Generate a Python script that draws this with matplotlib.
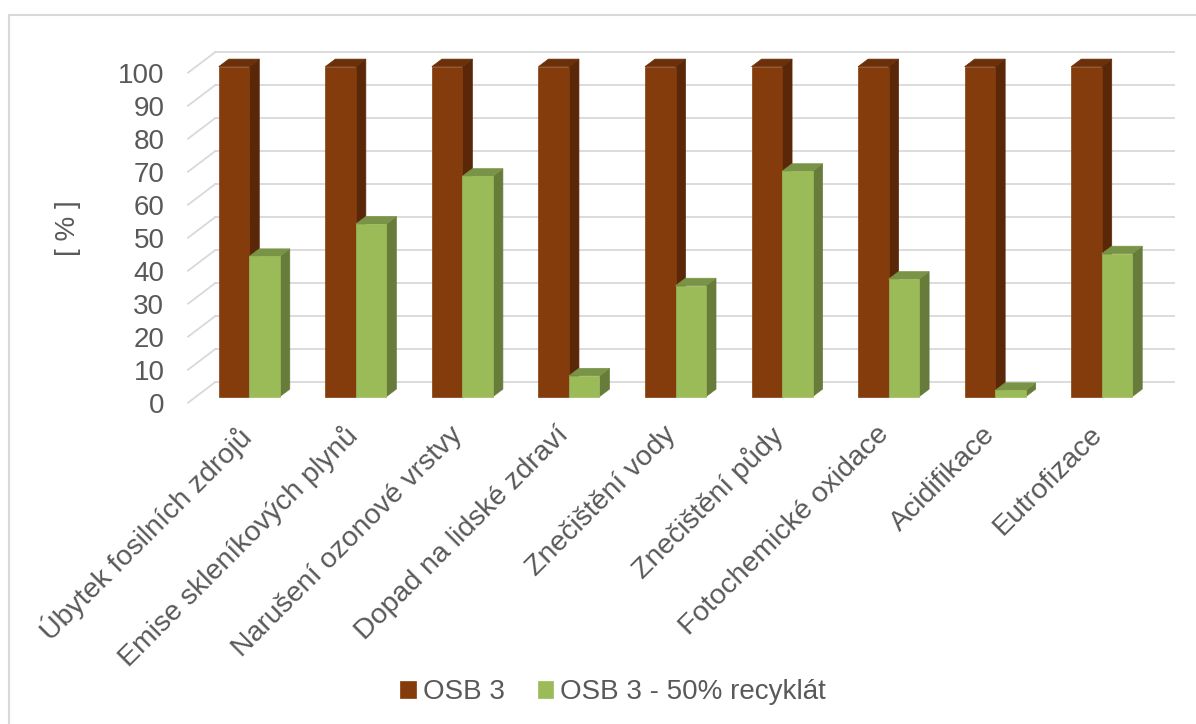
import numpy as np
import matplotlib
matplotlib.use("Agg")
import matplotlib.pyplot as plt
from matplotlib.patches import Polygon, Rectangle
from matplotlib.transforms import ScaledTranslation

# Data
categories = [
    "Úbytek fosilních zdrojů",
    "Emise skleníkových plynů",
    "Narušení ozonové vrstvy",
    "Dopad na lidské zdraví",
    "Znečištění vody",
    "Znečištění půdy",
    "Fotochemické oxidace",
    "Acidifikace",
    "Eutrofizace",
]
osb3 = [100, 100, 100, 100, 100, 100, 100, 100, 100]
osb3_recyklat = [42.5, 52.3, 66.8, 6.3, 33.6, 68.3, 35.6, 1.9, 43.3]
series_names = ["OSB 3", "OSB 3 - 50% recyklát"]
yticks = list(range(0, 101, 10))

# Colours (front, side, top)
BROWN = ("#843c0c", "#5a2808", "#6b300a")
GREEN = ("#9bbb59", "#677c3b", "#7a9447")
GRID = "#d9d9d9"
TEXT = "#595959"

plt.rcParams["font.family"] = ["Liberation Sans", "DejaVu Sans"]

W, H = 1196, 724
fig = plt.figure(figsize=(W / 100, H / 100), dpi=100)

# front plane of the plot in pixels
left_px, right_px = 188, 1147
top_px, bot_px = 72.7, 402.7
ax = fig.add_axes([left_px / W, 1 - bot_px / H,
                   (right_px - left_px) / W, (bot_px - top_px) / H])
n = len(categories)
ax.set_xlim(-0.5, n - 0.5)
ax.set_ylim(0, 100)
for sp in ax.spines.values():
    sp.set_visible(False)

px_x = (right_px - left_px) / n
px_y = (bot_px - top_px) / 100.0
slope = 0.755


def depth(s):
    # pixel depth -> data offsets
    return s / px_x, slope * s / px_y


# back wall + side wall gridlines
wx, wy = depth(27)
for v in yticks:
    ax.plot([-0.5 + wx, n - 0.5 + wx], [v + wy, v + wy], color=GRID, lw=1.3,
            clip_on=False, zorder=1)
    ax.plot([-0.5, -0.5 + wx], [v, v + wy], color=GRID, lw=1.3,
            clip_on=False, zorder=1)

# bars
fx, fy = depth(8)
bx, by = depth(18)
bw = 30.5 / px_x
x = np.arange(n)


def draw_series(xs, vals, cols, z, label):
    ax.bar(xs + fx, vals, width=bw, bottom=fy, align="edge", color=cols[0],
           edgecolor=cols[0], lw=0.5, clip_on=False, zorder=z + 0.2, label=label)
    dx, dy = bx - fx, by - fy
    for xi, v in zip(xs, vals):
        x0 = xi + fx
        x1 = x0 + bw
        y0, y1 = fy, fy + v
        side = Polygon([(x1, y0), (x1 + dx, y0 + dy), (x1 + dx, y1 + dy), (x1, y1)],
                       closed=True, facecolor=cols[1], edgecolor=cols[1], lw=0.5,
                       clip_on=False, zorder=z)
        top = Polygon([(x0, y1), (x1, y1), (x1 + dx, y1 + dy), (x0 + dx, y1 + dy)],
                      closed=True, facecolor=cols[2], edgecolor=cols[2], lw=0.5,
                      clip_on=False, zorder=z + 0.1)
        ax.add_patch(side)
        ax.add_patch(top)


draw_series(x - bw, osb3, BROWN, 2, series_names[0])
draw_series(x, osb3_recyklat, GREEN, 3, series_names[1])

# axes ticks
ax.set_yticks(yticks)
ax.set_yticklabels([str(v) for v in yticks])
ax.set_xticks(x)
ax.set_xticklabels(categories, rotation=45, ha="right", va="top",
                   rotation_mode="anchor")
ax.tick_params(axis="y", length=0, pad=17, labelsize=20, labelcolor=TEXT)
ax.tick_params(axis="x", length=0, pad=12, labelsize=20.5, labelcolor=TEXT)
shift = ScaledTranslation(-5 / 100, -2 / 100, fig.dpi_scale_trans)
for lbl in ax.get_xticklabels():
    lbl.set_transform(lbl.get_transform() + shift)
ax.set_facecolor("none")

fig.text(68 / W, 1 - 228 / H, "[ % ]", rotation=90, ha="center", va="center",
         fontsize=20, color=TEXT)

# legend
fig.legend(loc="center", bbox_to_anchor=(0.5 + 15 / W, 1 - 692 / H), ncol=2,
           frameon=False, fontsize=20, labelcolor=TEXT, handlelength=0.55,
           handleheight=0.55, handletextpad=0.25, columnspacing=1.2)

# chart border
fig.patches.append(Rectangle((9 / W, -0.1), 1.2, 1 - 15 / H + 0.1,
                             transform=fig.transFigure, fill=False,
                             edgecolor=GRID, lw=1.5))

fig.savefig("out.png", dpi=100)
